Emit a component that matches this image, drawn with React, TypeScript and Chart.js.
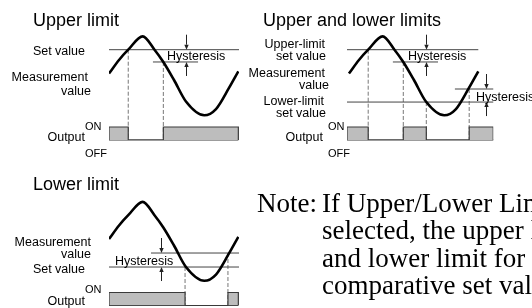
import React, { useEffect, useRef } from "react";
import { Chart, registerables } from "chart.js";

Chart.register(...registerables);

// ---- data (time across one cycle, process value in %) ----
const TIME = [0, 7.7, 14.8, 25.9, 35, 41.8, 50, 59.2, 73.3, 82.3, 92.3, 99.5];
const MEASUREMENT = [62.7, 75.5, 85.2, 97.8, 85.2, 73.6, 56.6, 36.3, 23.3, 29.2, 49.1, 64.8];

// Upper limit
const UPPER_SET = 85.2;
const UPPER_HYST = 11.6;
const UPPER_SWITCH_T = [14.8, 41.8];
const UPPER_SWITCH_LEVEL = [UPPER_SET, UPPER_SET - UPPER_HYST];
const UPPER_OUTPUT = [1, 0, 1];

// Upper and lower limits
const UL_UPPER_SET = 85.2;
const UL_LOWER_SET = 35.8;
const UL_HYST = [11.6, 12.3];
const UL_SWITCH_T = [14.8, 41.8, 59.5, 92.5];
const UL_SWITCH_LEVEL = [UL_UPPER_SET, UL_UPPER_SET - UL_HYST[0], UL_LOWER_SET, UL_LOWER_SET + UL_HYST[1]];
const UL_OUTPUT = [1, 0, 1, 0, 1];

// Lower limit
const LOWER_SET = 36.3;
const LOWER_HYST = 13.2;
const LOWER_SWITCH_T = [58.5, 91.5];
const LOWER_SWITCH_LEVEL = [LOWER_SET, LOWER_SET + LOWER_HYST];
const LOWER_OUTPUT = [1, 0, 1];

const NOTE_LINES = [
  "If Upper/Lower Limit is",
  "selected, the upper limit",
  "and lower limit for the",
  "comparative set value are",
];

// ---- styles ----
const SANS = '"Liberation Sans", Arial, Helvetica, sans-serif';
const TITLE_FONT = `18px ${SANS}`;
const LABEL_FONT = `12.5px ${SANS}`;
const SMALL_FONT = `11px ${SANS}`;

type Label = { text: string; x: number; y: number; align: "left" | "right"; font: string };
type Arrow = { t: number; upper: number; lower: number; dx: number; dy: number };
type HLine = { from: number; to: number; level: number };

type Panel = {
  key: string;
  left: number;
  top: number;
  width: number;
  height: number;
  padding: { left: number; right: number; top: number; bottom: number };
  xMin: number;
  xMax: number;
  outMax: number;
  lines: HLine[];
  switchT: number[];
  switchLevel: number[];
  output: number[];
  outputSpan: [number, number];
  arrows: Arrow[];
  labels: Label[];
};

const PANELS: Panel[] = [
  {
    key: "upper",
    left: 0,
    top: 0,
    width: 262,
    height: 162,
    padding: { left: 109, right: 23, top: 34, bottom: 22 },
    xMin: 0,
    xMax: 100,
    outMax: 8.15,
    lines: [
      { from: 0, to: 100, level: UPPER_SET },
      { from: 33.8, to: 68.5, level: UPPER_SET - UPPER_HYST },
    ],
    switchT: UPPER_SWITCH_T,
    switchLevel: UPPER_SWITCH_LEVEL,
    output: UPPER_OUTPUT,
    outputSpan: [0, 99.5],
    arrows: [{ t: 59.2, upper: UPPER_SET, lower: UPPER_SET - UPPER_HYST, dx: -19, dy: -1.7 }],
    labels: [
      { text: "Upper limit", x: 33, y: 26, align: "left", font: TITLE_FONT },
      { text: "Set value", x: 85, y: 55, align: "right", font: LABEL_FONT },
      { text: "Measurement", x: 88, y: 81, align: "right", font: LABEL_FONT },
      { text: "value", x: 91, y: 94.5, align: "right", font: LABEL_FONT },
      { text: "ON", x: 85, y: 129.5, align: "left", font: SMALL_FONT },
      { text: "Output", x: 85, y: 141, align: "right", font: LABEL_FONT },
      { text: "OFF", x: 85, y: 157, align: "left", font: SMALL_FONT },
    ],
  },
  {
    key: "upperlower",
    left: 240,
    top: 0,
    width: 292,
    height: 162,
    padding: { left: 107, right: 38.75, top: 34, bottom: 22 },
    xMin: -1.5,
    xMax: 111,
    outMax: 8.15,
    lines: [
      { from: -1.5, to: 99.5, level: UL_UPPER_SET },
      { from: 33.8, to: 68.5, level: UL_UPPER_SET - UL_HYST[0] },
      { from: -1.5, to: 111, level: UL_LOWER_SET },
      { from: 81.5, to: 111, level: UL_LOWER_SET + UL_HYST[1] },
    ],
    switchT: UL_SWITCH_T,
    switchLevel: UL_SWITCH_LEVEL,
    output: UL_OUTPUT,
    outputSpan: [-1.5, 111],
    arrows: [
      { t: 59.2, upper: UL_UPPER_SET, lower: UL_UPPER_SET - UL_HYST[0], dx: -18, dy: -1.7 },
      { t: 105.4, upper: UL_LOWER_SET + UL_HYST[1], lower: UL_LOWER_SET, dx: -10, dy: -1 },
    ],
    labels: [
      { text: "Upper and lower limits", x: 23, y: 26, align: "left", font: TITLE_FONT },
      { text: "Upper-limit", x: 85, y: 48, align: "right", font: LABEL_FONT },
      { text: "set value", x: 86, y: 60, align: "right", font: LABEL_FONT },
      { text: "Measurement", x: 85, y: 77, align: "right", font: LABEL_FONT },
      { text: "value", x: 89, y: 89, align: "right", font: LABEL_FONT },
      { text: "Lower-limit", x: 84, y: 105, align: "right", font: LABEL_FONT },
      { text: "set value", x: 86, y: 117, align: "right", font: LABEL_FONT },
      { text: "ON", x: 88, y: 129.5, align: "left", font: SMALL_FONT },
      { text: "Output", x: 83, y: 141, align: "right", font: LABEL_FONT },
      { text: "OFF", x: 88, y: 157, align: "left", font: SMALL_FONT },
    ],
  },
  {
    key: "lower",
    left: 0,
    top: 160,
    width: 262,
    height: 148,
    padding: { left: 109, right: 23, top: 39.5, bottom: 2.5 },
    xMin: 0,
    xMax: 100,
    outMax: 8.15,
    lines: [
      { from: 0, to: 100, level: LOWER_SET },
      { from: 32.3, to: 100, level: LOWER_SET + LOWER_HYST },
    ],
    switchT: LOWER_SWITCH_T,
    switchLevel: LOWER_SWITCH_LEVEL,
    output: LOWER_OUTPUT,
    outputSpan: [0, 99.5],
    arrows: [{ t: 40, upper: LOWER_SET + LOWER_HYST, lower: LOWER_SET, dx: -46, dy: -2 }],
    labels: [
      { text: "Lower limit", x: 33, y: 30, align: "left", font: TITLE_FONT },
      { text: "Measurement", x: 91, y: 86, align: "right", font: LABEL_FONT },
      { text: "value", x: 91, y: 97.7, align: "right", font: LABEL_FONT },
      { text: "Set value", x: 85, y: 113.3, align: "right", font: LABEL_FONT },
      { text: "ON", x: 85, y: 133.3, align: "left", font: SMALL_FONT },
      { text: "Output", x: 85, y: 145, align: "right", font: LABEL_FONT },
    ],
  },
];

function drawArrow(ctx: CanvasRenderingContext2D, x: number, yFrom: number, yTo: number) {
  const dir = yTo > yFrom ? 1 : -1;
  const head = 5;
  const half = 2.2;
  ctx.beginPath();
  ctx.moveTo(x, yFrom);
  ctx.lineTo(x, yTo - dir * head);
  ctx.stroke();
  ctx.beginPath();
  ctx.moveTo(x, yTo);
  ctx.lineTo(x - half, yTo - dir * head);
  ctx.lineTo(x + half, yTo - dir * head);
  ctx.closePath();
  ctx.fill();
}

function makePlugin(p: Panel) {
  return {
    id: "diagram-" + p.key,
    afterDatasetsDraw(chart: any) {
      const ctx: CanvasRenderingContext2D = chart.ctx;
      const xs = chart.scales.x;
      const ys = chart.scales.y;
      ctx.save();
      ctx.strokeStyle = "#222";
      ctx.fillStyle = "#222";
      ctx.lineWidth = 1;
      for (const a of p.arrows) {
        const x = Math.round(xs.getPixelForValue(a.t)) + 0.5;
        const yU = ys.getPixelForValue(a.upper);
        const yL = ys.getPixelForValue(a.lower);
        drawArrow(ctx, x, yU - 15, yU);
        drawArrow(ctx, x, yL + 14, yL);
      }
      ctx.fillStyle = "#000";
      ctx.textBaseline = "alphabetic";
      for (const a of p.arrows) {
        const x = xs.getPixelForValue(a.t);
        const yL = ys.getPixelForValue(a.lower);
        ctx.font = LABEL_FONT;
        ctx.textAlign = "left";
        ctx.fillText("Hysteresis", x + a.dx, yL + a.dy);
      }
      for (const l of p.labels) {
        ctx.font = l.font;
        ctx.textAlign = l.align;
        ctx.fillText(l.text, l.x, l.y);
      }
      ctx.restore();
    },
  };
}

function buildDatasets(p: Panel) {
  const curve = {
    data: TIME.map((t, i) => ({ x: t, y: MEASUREMENT[i] })),
    borderColor: "#000",
    borderWidth: 2.6,
    cubicInterpolationMode: "monotone",
    pointRadius: 0,
    fill: false,
  };
  const hLines = p.lines.map((l) => ({
    data: [
      { x: l.from, y: l.level },
      { x: l.to, y: l.level },
    ],
    borderColor: "#444",
    borderWidth: 1,
    pointRadius: 0,
    fill: false,
    clip: false,
  }));
  const drops = p.switchT.map((t, i) => ({
    data: [
      { x: t, y: p.switchLevel[i] },
      { x: t, y: 0 },
    ],
    borderColor: "#777",
    borderWidth: 1,
    borderDash: [4, 2],
    pointRadius: 0,
    fill: false,
  }));
  const [s0, s1] = p.outputSpan;
  const outPts: { x: number; y: number }[] = [
    { x: s0, y: 0 },
    { x: s0, y: p.output[0] },
  ];
  p.switchT.forEach((t, i) => outPts.push({ x: t, y: p.output[i + 1] }));
  outPts.push({ x: s1, y: p.output[p.output.length - 1] });
  outPts.push({ x: s1, y: 0 });
  const output = {
    data: outPts,
    yAxisID: "yOut",
    stepped: "before",
    borderColor: "#3a3a3a",
    borderWidth: 1.2,
    backgroundColor: "#bdbdbd",
    fill: { value: 0 },
    pointRadius: 0,
  };
  const base = {
    data: [
      { x: s0, y: 0 },
      { x: s1, y: 0 },
    ],
    yAxisID: "yOut",
    borderColor: "#3a3a3a",
    borderWidth: 1.2,
    pointRadius: 0,
    fill: false,
    clip: false,
  };
  return [curve, ...hLines, output, base, ...drops];
}

function PanelChart({ p }: { p: Panel }) {
  const ref = useRef<HTMLCanvasElement | null>(null);
  useEffect(() => {
    if (!ref.current) return;
    const chart = new Chart(ref.current, {
      type: "line",
      data: { datasets: buildDatasets(p) as any },
      options: {
        responsive: false,
        animation: false,
        events: [],
        layout: { padding: p.padding },
        plugins: {
          legend: { display: false },
          tooltip: { enabled: false },
          title: { display: false },
        },
        scales: {
          x: { type: "linear", min: p.xMin, max: p.xMax, display: false },
          y: { type: "linear", min: 0, max: 100, display: false },
          yOut: { type: "linear", min: 0, max: p.outMax, display: false, position: "right" },
        },
      } as any,
      plugins: [makePlugin(p) as any],
    });
    return () => chart.destroy();
  }, [p]);
  return (
    <canvas
      ref={ref}
      width={p.width}
      height={p.height}
      style={{ position: "absolute", left: p.left, top: p.top, width: p.width, height: p.height }}
    />
  );
}

export default function App() {
  return (
    <div
      style={{
        position: "fixed",
        left: 0,
        top: 0,
        width: 532,
        height: 308,
        overflow: "hidden",
        background: "#fff",
      }}
    >
      {PANELS.map((p) => (
        <PanelChart key={p.key} p={p} />
      ))}
      <div
        style={{
          position: "absolute",
          left: 257,
          top: 190.2,
          font: '27px "Liberation Serif", "Times New Roman", serif',
          lineHeight: "27.3px",
          whiteSpace: "nowrap",
          color: "#000",
        }}
      >
        <div>
          <span style={{ display: "inline-block", width: 65 }}>Note:</span>
          {NOTE_LINES[0]}
        </div>
        {NOTE_LINES.slice(1).map((l) => (
          <div key={l} style={{ paddingLeft: 65 }}>
            {l}
          </div>
        ))}
      </div>
    </div>
  );
}
